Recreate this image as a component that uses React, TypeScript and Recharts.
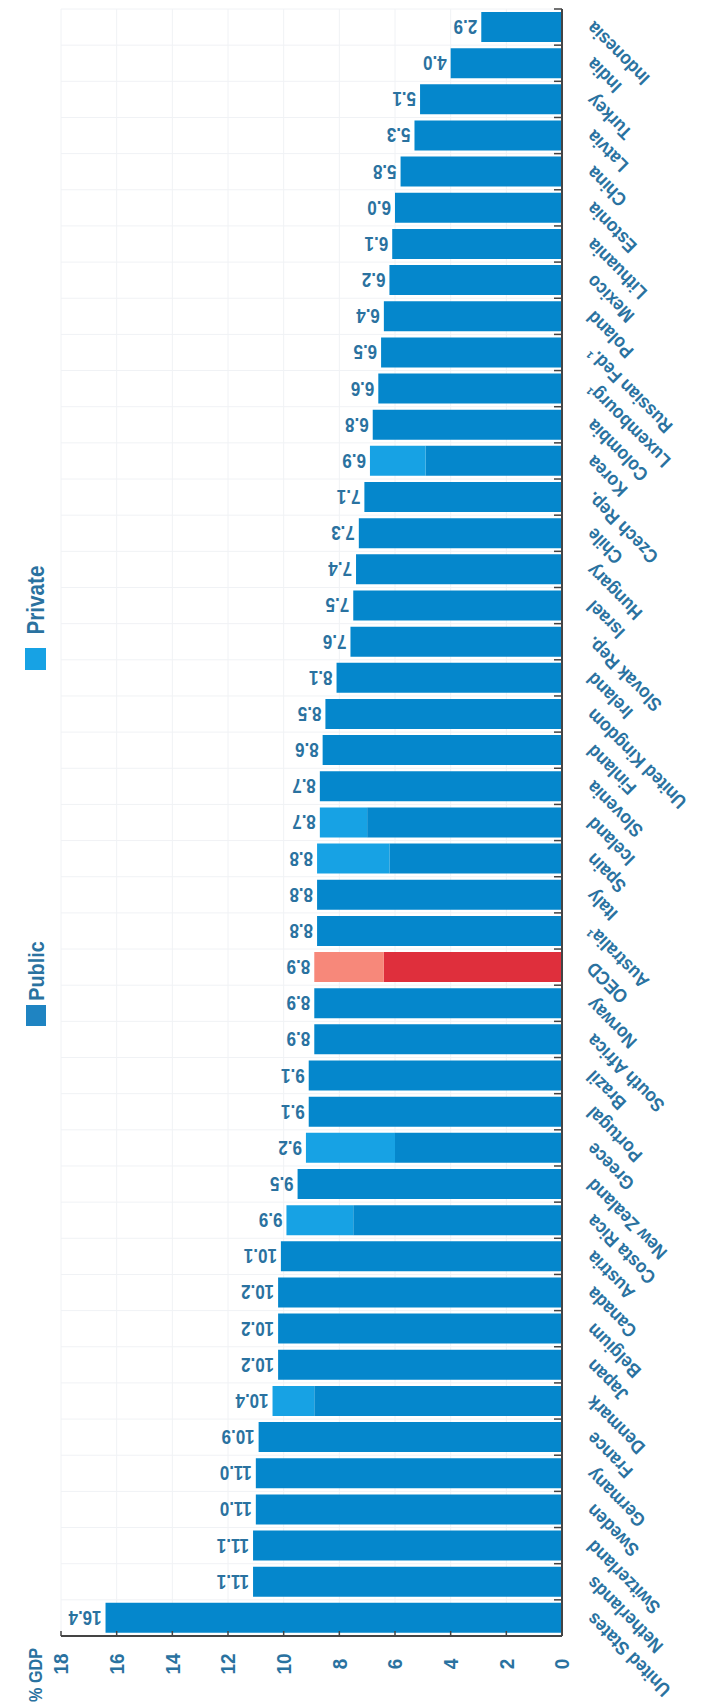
import { BarChart, Bar, XAxis, YAxis, CartesianGrid, Cell, LabelList } from 'recharts';

// countries listed from the top of the chart to the bottom
const countries = [
  'Indonesia', 'India', 'Turkey', 'Latvia', 'China', 'Estonia', 'Lithuania', 'Mexico', 'Poland',
  'Russian Fed.¹', 'Luxembourg¹', 'Colombia', 'Korea', 'Czech Rep.', 'Chile', 'Hungary', 'Israel',
  'Slovak Rep.', 'Ireland', 'United Kingdom', 'Finland', 'Slovenia', 'Iceland', 'Spain', 'Italy',
  'Australia¹', 'OECD', 'Norway', 'South Africa', 'Brazil', 'Portugal', 'Greece', 'New Zealand',
  'Costa Rica', 'Austria', 'Canada', 'Belgium', 'Japan', 'Denmark', 'France', 'Germany', 'Sweden',
  'Switzerland', 'Netherlands', 'United States',
];

const publicShare = [
  2.9, 4.0, 5.1, 5.3, 5.8, 6.0, 6.1, 6.2, 6.4,
  6.5, 6.6, 6.8, 4.9, 7.1, 7.3, 7.4, 7.5,
  7.6, 8.1, 8.5, 8.6, 8.7, 7.0, 6.2, 8.8,
  8.8, 6.4, 8.9, 8.9, 9.1, 9.1, 6.0, 9.5,
  7.5, 10.1, 10.2, 10.2, 10.2, 8.9, 10.9, 11.0, 11.0,
  11.1, 11.1, 16.4,
];

const privateShare = [
  0, 0, 0, 0, 0, 0, 0, 0, 0,
  0, 0, 0, 2.0, 0, 0, 0, 0,
  0, 0, 0, 0, 0, 1.7, 2.6, 0,
  0, 2.5, 0, 0, 0, 0, 3.2, 0,
  2.4, 0, 0, 0, 0, 1.5, 0, 0, 0,
  0, 0, 0,
];

const totalLabels = [
  '2.9', '4.0', '5.1', '5.3', '5.8', '6.0', '6.1', '6.2', '6.4',
  '6.5', '6.6', '6.8', '6.9', '7.1', '7.3', '7.4', '7.5',
  '7.6', '8.1', '8.5', '8.6', '8.7', '8.7', '8.8', '8.8',
  '8.8', '8.9', '8.9', '8.9', '9.1', '9.1', '9.2', '9.5',
  '9.9', '10.1', '10.2', '10.2', '10.2', '10.4', '10.9', '11.0', '11.0',
  '11.1', '11.1', '16.4',
];

const valueTicks = [0, 2, 4, 6, 8, 10, 12, 14, 16, 18];

const rows = countries.map((country, i) => ({
  country,
  public: publicShare[i],
  private: privateShare[i],
}));

const W = 707;
const H = 1702;
const TOP = 9;
const BOTTOM = 1636;
const LEFT = 61;
const RIGHT = 562;
const BAND = (BOTTOM - TOP) / countries.length;

const FONT = "'Liberation Sans', Arial, sans-serif";
const BLUE = '#0587cc';
const LIGHT = '#17a2e4';
const RED = '#df2f3c';
const SALMON = '#f7887a';
const AXIS = '#444';
const TEXT = '#2a72a0';

const ValueTick = ({ x, y, payload }: any) => (
  <g>
    <line x1={x} x2={x} y1={y} y2={y - 5} stroke={AXIS} strokeWidth={1.5} />
    <text
      transform={`translate(${x} ${y + 28}) rotate(-90) scale(0.9 1)`}
      textAnchor="middle"
      dominantBaseline="central"
      fontFamily={FONT}
      fontWeight="bold"
      fontSize={21}
      fill={TEXT}
    >
      {payload.value}
    </text>
  </g>
);

const CountryTick = ({ x, y, payload, index }: any) => (
  <g>
    <line x1={x} x2={x - 8} y1={y - BAND / 2} y2={y - BAND / 2} stroke={AXIS} strokeWidth={1.5} />
    {index === countries.length - 1 && (
      <line x1={x} x2={x - 8} y1={y + BAND / 2} y2={y + BAND / 2} stroke={AXIS} strokeWidth={1.5} />
    )}
    <text
      transform={`translate(${x + 28} ${y - 2}) rotate(-135) scale(0.9 1)`}
      textAnchor="end"
      dominantBaseline="central"
      fontFamily={FONT}
      fontWeight="bold"
      fontSize={19}
      fill={TEXT}
    >
      {payload.value}
    </text>
  </g>
);

// label sits past the end of the whole stack: public rect plus its private part
const ValueLabel = (props: any) => {
  const { x, y, width, height, value } = props;
  const i = countries.indexOf(value);
  const w = Math.abs(width);
  const extra = publicShare[i] > 0 ? (w * privateShare[i]) / publicShare[i] : 0;
  const end = Math.min(x, x + width) - extra - 4;
  const cy = y + height / 2;
  return (
    <text
      transform={`translate(${end} ${cy}) rotate(180) scale(0.85 1)`}
      textAnchor="start"
      dominantBaseline="central"
      fontFamily={FONT}
      fontWeight="bold"
      fontSize={20}
      fill={TEXT}
    >
      {totalLabels[i]}
    </text>
  );
};

const rotatedText = (x: number, y: number, label: string, size: number) => (
  <text
    transform={`translate(${x} ${y}) rotate(-90) scale(0.9 1)`}
    textAnchor="middle"
    dominantBaseline="central"
    fontFamily={FONT}
    fontWeight="bold"
    fontSize={size}
    fill={TEXT}
  >
    {label}
  </text>
);

export default function App() {
  return (
    <div style={{ position: 'absolute', left: 0, top: 0, width: W, height: H, background: '#fff' }}>
      <BarChart
        width={W}
        height={H}
        data={rows}
        layout="vertical"
        margin={{ top: TOP, right: 0, bottom: 0, left: LEFT }}
        barSize={30}
      >
        <CartesianGrid
          stroke="#f0f2f5"
          horizontalCoordinatesGenerator={({ offset }: any) =>
            countries.map((_, i) => offset.top + (i * offset.height) / countries.length)
          }
        />
        <XAxis
          type="number"
          domain={[0, 18]}
          ticks={valueTicks}
          reversed
          height={H - BOTTOM}
          tickSize={0}
          tickMargin={0}
          tickLine={false}
          axisLine={{ stroke: AXIS, strokeWidth: 2 }}
          tick={ValueTick}
        />
        <YAxis
          type="category"
          dataKey="country"
          orientation="right"
          width={W - RIGHT}
          interval={0}
          tickSize={0}
          tickMargin={0}
          tickLine={false}
          axisLine={{ stroke: AXIS, strokeWidth: 2 }}
          tick={CountryTick}
        />
        <Bar dataKey="public" stackId="a" isAnimationActive={false}>
          {rows.map((r) => (
            <Cell key={r.country} fill={r.country === 'OECD' ? RED : BLUE} />
          ))}
          <LabelList dataKey="country" content={ValueLabel} />
        </Bar>
        <Bar dataKey="private" stackId="a" isAnimationActive={false}>
          {rows.map((r) => (
            <Cell key={r.country} fill={r.country === 'OECD' ? SALMON : LIGHT} />
          ))}
        </Bar>
      </BarChart>
      <svg width={W} height={H} style={{ position: 'absolute', left: 0, top: 0, pointerEvents: 'none' }}>
        {rotatedText(36, 600, 'Private', 23)}
        <rect x={25} y={648} width={21} height={22} fill={LIGHT} />
        {rotatedText(36, 971, 'Public', 22)}
        <rect x={26} y={1005} width={20} height={21} fill="#1f84c2" />
        {rotatedText(36, 1675, '% GDP', 18)}
      </svg>
    </div>
  );
}
